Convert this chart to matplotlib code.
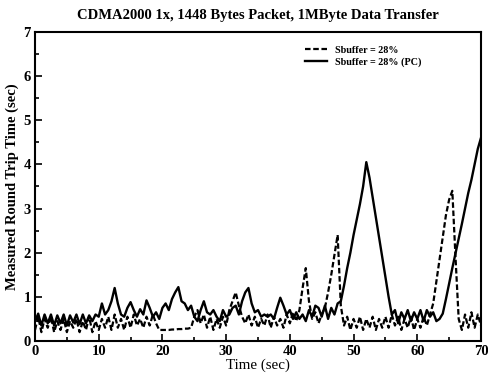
import matplotlib
matplotlib.use("Agg")
import matplotlib.pyplot as plt
import numpy as np
from matplotlib.ticker import MultipleLocator

plt.rcParams['font.family'] = ['Liberation Serif', 'DejaVu Serif']

# sample instants (sec)
time_s = np.arange(0, 70.01, 0.5)

# RTT with Sbuffer = 28%
rtt_sbuf = [
    0.25, 0.55, 0.20, 0.50, 0.30, 0.55, 0.20, 0.45, 0.25, 0.50,
    0.20, 0.45, 0.30, 0.50, 0.20, 0.45, 0.25, 0.55, 0.20, 0.45,
    0.25, 0.50, 0.30, 0.55, 0.25, 0.60, 0.30, 0.50, 0.25, 0.55,
    0.30, 0.60, 0.35, 0.50, 0.30, 0.55, 0.35, 0.60, 0.40, 0.25,
    0.25, 0.25, 0.25, 0.26, 0.26, 0.27, 0.27, 0.28, 0.28, 0.30,
    0.55, 0.70, 0.40, 0.60, 0.30, 0.55, 0.25, 0.50, 0.30, 0.55,
    0.35, 0.70, 0.90, 1.10, 0.80, 0.55, 0.40, 0.60, 0.35, 0.55,
    0.30, 0.50, 0.35, 0.60, 0.30, 0.55, 0.35, 0.50, 0.30, 0.60,
    0.40, 0.65, 0.45, 0.70, 1.20, 1.65, 0.90, 0.50, 0.65, 0.40,
    0.60, 0.75, 1.10, 1.50, 1.95, 2.40, 0.80, 0.35, 0.55, 0.25,
    0.50, 0.30, 0.55, 0.25, 0.50, 0.30, 0.55, 0.25, 0.50, 0.30,
    0.55, 0.30, 0.60, 0.35, 0.55, 0.25, 0.50, 0.30, 0.55, 0.25,
    0.50, 0.30, 0.55, 0.35, 0.60, 0.85, 1.35, 1.85, 2.35, 2.85,
    3.20, 3.40, 1.90, 0.50, 0.25, 0.60, 0.30, 0.65, 0.30, 0.60,
    0.35,
]

# RTT with Sbuffer = 28% (PC)
rtt_sbuf_pc = [
    0.45, 0.62, 0.35, 0.60, 0.40, 0.60, 0.35, 0.58, 0.40, 0.60,
    0.35, 0.58, 0.42, 0.60, 0.38, 0.60, 0.40, 0.58, 0.45, 0.60,
    0.55, 0.85, 0.60, 0.70, 0.90, 1.20, 0.85, 0.60, 0.55, 0.75,
    0.88, 0.70, 0.55, 0.72, 0.60, 0.92, 0.75, 0.55, 0.65, 0.50,
    0.75, 0.85, 0.70, 0.95, 1.10, 1.22, 0.90, 0.85, 0.70, 0.80,
    0.55, 0.45, 0.70, 0.90, 0.65, 0.60, 0.70, 0.55, 0.45, 0.70,
    0.55, 0.60, 0.75, 0.80, 0.60, 0.90, 1.10, 1.20, 0.85, 0.65,
    0.70, 0.55, 0.60, 0.55, 0.60, 0.50, 0.75, 0.98, 0.80, 0.60,
    0.70, 0.50, 0.65, 0.50, 0.60, 0.45, 0.70, 0.55, 0.80, 0.75,
    0.55, 0.80, 0.50, 0.75, 0.60, 0.85, 0.90, 1.25, 1.65, 2.00,
    2.40, 2.75, 3.10, 3.50, 4.05, 3.70, 3.25, 2.80, 2.35, 1.90,
    1.45, 1.00, 0.60, 0.70, 0.40, 0.65, 0.50, 0.70, 0.45, 0.65,
    0.50, 0.70, 0.45, 0.70, 0.55, 0.65, 0.45, 0.50, 0.62, 0.95,
    1.30, 1.65, 1.98, 2.30, 2.65, 3.00, 3.35, 3.65, 4.00, 4.35,
    4.60,
]

fig = plt.figure(figsize=(4.89, 3.77), dpi=100)
ax = fig.add_axes([0.0716, 0.0955, 0.912, 0.82])

ax.plot(time_s, rtt_sbuf, color='black', lw=1.6, linestyle=(0, (2.5, 1.2)),
        label='Sbuffer = 28%')
ax.plot(time_s, rtt_sbuf_pc, color='black', lw=1.7, label='Sbuffer = 28% (PC)')

ax.set_xlim(0, 70)
ax.set_ylim(0, 7)
ax.xaxis.set_major_locator(MultipleLocator(10))
ax.xaxis.set_minor_locator(MultipleLocator(5))
ax.yaxis.set_major_locator(MultipleLocator(1))
ax.yaxis.set_minor_locator(MultipleLocator(0.5))
ax.tick_params(which='both', direction='in', top=False, right=False, width=1.2)
ax.tick_params(which='major', length=5, labelsize=10.5, pad=3)
ax.tick_params(which='minor', length=3)
for lab in ax.get_xticklabels() + ax.get_yticklabels():
    lab.set_fontweight('bold')
for sp in ax.spines.values():
    sp.set_linewidth(1.5)

ax.set_xlabel('Time (sec)', fontsize=10.8, labelpad=0)
ax.set_ylabel('Measured Round Trip Time (sec)', fontsize=10.5, fontweight='bold',
              labelpad=3)
ax.set_title('CDMA2000 1x, 1448 Bytes Packet, 1MByte Data Transfer',
             fontsize=10.5, fontweight='bold', pad=9)

ax.legend(loc='upper left', bbox_to_anchor=(0.605, 0.955), frameon=False,
          handlelength=2.2, borderpad=0, borderaxespad=0,
          labelspacing=0.2, handletextpad=0.8,
          prop={'weight': 'bold', 'size': 7.3})

fig.savefig('out.png', dpi=100)
